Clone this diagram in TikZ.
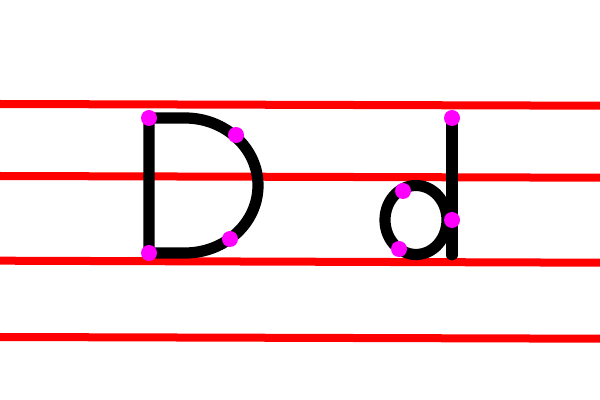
\documentclass[tikz,border=0pt]{standalone}
\usepackage{tikz}
\definecolor{guidered}{RGB}{255, 0, 0}
\definecolor{dotmagenta}{RGB}{255, 0, 255}
\definecolor{inkblack}{RGB}{0, 0, 0}

\begin{document}
\begin{tikzpicture}[x=0.025cm, y=-0.025cm,
		guide/.style={draw=guidered, line width=0.2cm},
		letter/.style={draw=inkblack, line width=0.28cm, line cap=round, line join=round},
		dot/.style={circle, fill=dotmagenta, minimum size=0.4cm, inner sep=0pt}]
	\useasboundingbox (0,0) rectangle (600,400);
	% guide lines
	\foreach \ya/\yb [count=\i] in {104/105.7, 176/177.7, 260.7/262.7, 337/338.7} {
		\coordinate (gl\i) at (0,\ya);
		\coordinate (gr\i) at (600,\yb);
		\draw[guide] (gl\i) -- (gr\i);
	}
	% capital D
	\draw[letter] (149,253) -- (149,118) -- (185,118)
		arc[start angle=90, end angle=-90, x radius=73, y radius=-67.5] -- cycle;
	% small d
	\draw[letter] (416,220) ellipse[x radius=31, y radius=34.5];
	\draw[letter] (452,118) -- (452,255);
	% start and turn points
	\node[dot] (Dtop) at (149,118) {};
	\node[dot] (Dupper) at (236,135) {};
	\node[dot] (Dlower) at (230,239) {};
	\node[dot] (Dbottom) at (149,253) {};
	\node[dot] (dtop) at (452,118) {};
	\node[dot] (dbowl) at (403,191) {};
	\node[dot] (dmid) at (452,220) {};
	\node[dot] (dbottom) at (399,249) {};
\end{tikzpicture}
\end{document}
